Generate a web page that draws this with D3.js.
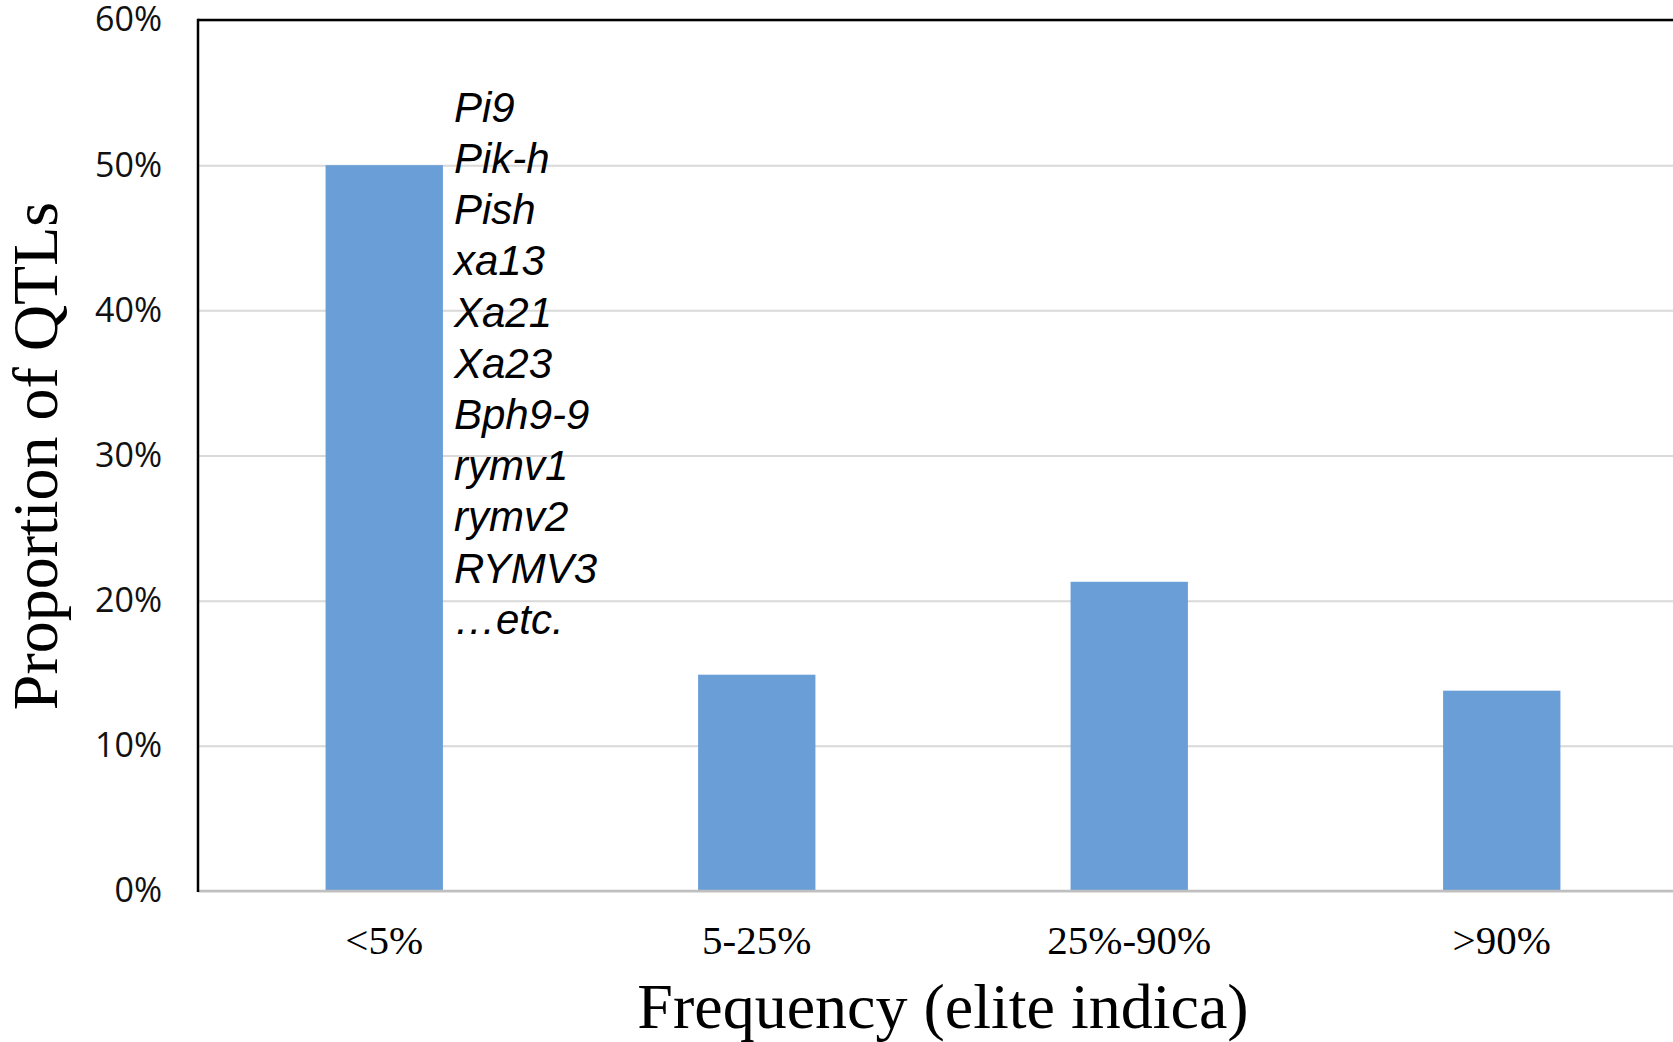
<!DOCTYPE html>
<html>
<head>
<meta charset="utf-8">
<script src="https://cdn.jsdelivr.net/npm/d3@7"></script>
<style>
  body { margin: 0; background: #fff; }
</style>
</head>
<body>
<div id="chart"></div>
<script>
// QTL frequency bar chart

const categories = ["<5%", "5-25%", "25%-90%", ">90%"];
const proportions = [0.50, 0.149, 0.213, 0.138];
const yTicks = [0, 0.1, 0.2, 0.3, 0.4, 0.5, 0.6];
const geneLabels = ["Pi9", "Pik-h", "Pish", "xa13", "Xa21", "Xa23", "Bph9-9", "rymv1", "rymv2", "RYMV3", "\u2026etc."];

const width = 1673;
const height = 1042;
const plotLeft = 198, plotTop = 20, plotBottom = 891, plotRight = 1688;

const svg = d3.select("#chart")
  .append("svg")
  .attr("width", width)
  .attr("height", height);

const x = d3.scaleBand()
  .domain(categories)
  .range([plotLeft, plotRight])
  .paddingInner(0.685)
  .paddingOuter(0.3425);

const y = d3.scaleLinear()
  .domain([0, 0.6])
  .range([plotBottom, plotTop]);

// gridlines + y tick labels
const yAxis = svg.append("g")
  .attr("transform", `translate(${plotLeft},0)`)
  .call(d3.axisLeft(y)
    .tickValues(yTicks)
    .tickFormat(d3.format(".0%"))
    .tickSizeInner(-(plotRight - plotLeft))
    .tickSizeOuter(0)
    .tickPadding(36));

yAxis.select(".domain").remove();
yAxis.selectAll(".tick line")
  .attr("stroke", "#d9d9d9")
  .attr("stroke-width", 2);
yAxis.selectAll(".tick text")
  .attr("font-family", "Open Sans, sans-serif")
  .attr("font-size", "34px")
  .attr("fill", "#111");

// bars
svg.selectAll(".bar")
  .data(proportions)
  .enter()
  .append("rect")
  .attr("class", "bar")
  .attr("x", (d, i) => x(categories[i]))
  .attr("y", d => y(d))
  .attr("width", x.bandwidth())
  .attr("height", d => y(0) - y(d))
  .attr("fill", "#6a9ed7");

// baseline
svg.append("line")
  .attr("x1", plotLeft).attr("x2", plotRight)
  .attr("y1", y(0)).attr("y2", y(0))
  .attr("stroke", "#bfbfbf")
  .attr("stroke-width", 2.5);

// plot frame: top and left
svg.append("line")
  .attr("x1", plotLeft).attr("x2", plotRight)
  .attr("y1", y(0.6)).attr("y2", y(0.6))
  .attr("stroke", "#000")
  .attr("stroke-width", 2.5);
svg.append("line")
  .attr("x1", plotLeft).attr("x2", plotLeft)
  .attr("y1", y(0.6) - 1.2).attr("y2", y(0) + 1)
  .attr("stroke", "#000")
  .attr("stroke-width", 2.5);

// x tick labels
const xAxis = svg.append("g")
  .attr("transform", `translate(0,${plotBottom})`)
  .call(d3.axisBottom(x).tickSize(0));
xAxis.select(".domain").remove();
xAxis.selectAll(".tick text")
  .attr("y", 49)
  .attr("dy", "0.35em")
  .attr("font-family", "Liberation Serif, Times New Roman, serif")
  .attr("font-size", "41px")
  .attr("fill", "#000");

// gene annotation list next to the first bar
svg.append("g")
  .selectAll("text")
  .data(geneLabels)
  .enter()
  .append("text")
  .attr("x", x(categories[0]) + x.bandwidth() + 11)
  .attr("y", (d, i) => 107 + i * 51.2)
  .attr("dy", "0.35em")
  .attr("font-family", "Liberation Sans, Arial, sans-serif")
  .attr("font-style", "italic")
  .attr("font-size", "42px")
  .attr("fill", "#000")
  .text(d => d);

// axis titles
svg.append("text")
  .attr("x", 943)
  .attr("y", 1028)
  .attr("text-anchor", "middle")
  .attr("font-family", "Liberation Serif, Times New Roman, serif")
  .attr("font-size", "64px")
  .text("Frequency (elite indica)");

svg.append("text")
  .attr("transform", "translate(57,456) rotate(-90)")
  .attr("text-anchor", "middle")
  .attr("font-family", "Liberation Serif, Times New Roman, serif")
  .attr("font-size", "64px")
  .text("Proportion of QTLs");
</script>
</body>
</html>
